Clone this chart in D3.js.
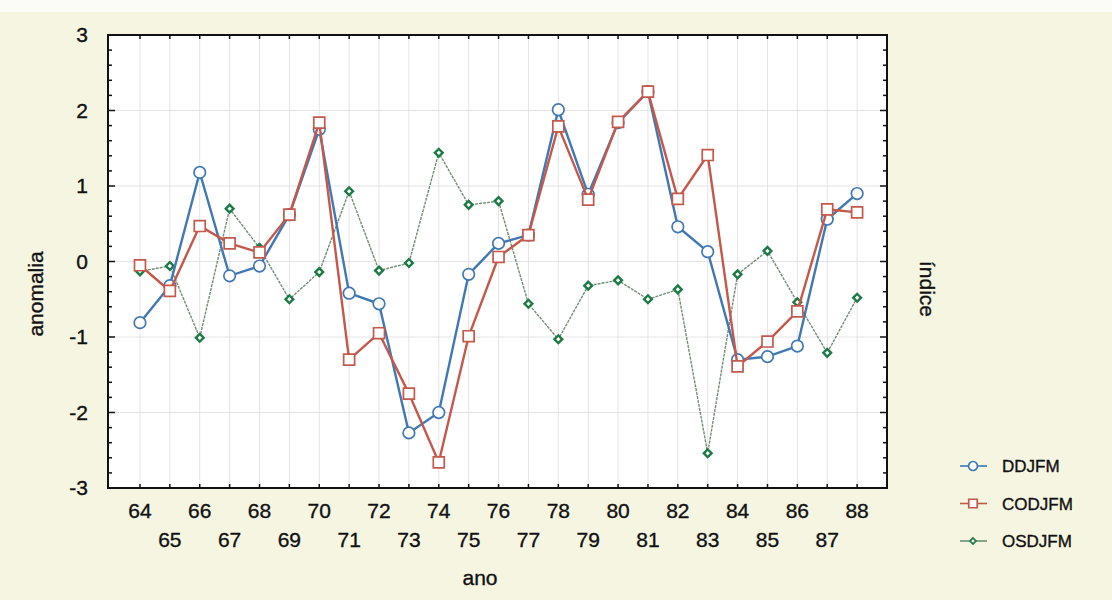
<!DOCTYPE html>
<html>
<head>
<meta charset="utf-8">
<script src="https://cdn.jsdelivr.net/npm/d3@7"></script>
<style>
  body { margin: 0; background: #f6f5e2; }
  svg { display: block; font-family: "Liberation Sans", Arial, sans-serif; }
  text { fill: #111; stroke: #111; stroke-width: 0.35px; }
</style>
</head>
<body>
<div id="chart"></div>
<script>
// years on the x axis (19xx)
const years = d3.range(64, 89);

// series values
const ddjfm = [-0.81, -0.32, 1.18, -0.19, -0.06, 0.62, 1.75, -0.42, -0.56, -2.27, -2.0, -0.17, 0.24,
               0.35, 2.01, 0.89, 1.84, 2.25, 0.46, 0.13, -1.3, -1.26, -1.12, 0.56, 0.9];
const codjfm = [-0.05, -0.39, 0.47, 0.24, 0.12, 0.62, 1.84, -1.3, -0.95, -1.75, -2.66, -0.99, 0.06,
                0.35, 1.79, 0.82, 1.85, 2.25, 0.83, 1.41, -1.39, -1.06, -0.66, 0.69, 0.65];
const osdjfm = [-0.13, -0.06, -1.01, 0.7, 0.18, -0.5, -0.14, 0.93, -0.12, -0.02, 1.44, 0.75, 0.8,
                -0.56, -1.03, -0.32, -0.25, -0.5, -0.37, -2.54, -0.17, 0.14, -0.54, -1.21, -0.48];

const yTicks = [-3, -2, -1, 0, 1, 2, 3];
const seriesNames = ["DDJFM", "CODJFM", "OSDJFM"];

const W = 1112, H = 600;
const pLeft = 108, pRight = 887, pTop = 35, pBottom = 488;

const svg = d3.select("#chart").append("svg")
    .attr("width", W)
    .attr("height", H);

// whitish band at the very top of the scan
svg.append("rect").attr("x", 0).attr("y", 0).attr("width", W).attr("height", 12).attr("fill", "#fbfbf7");

let x = d3.scaleLinear().domain([62.93, 89.0]).range([pLeft, pRight]);
let y = d3.scaleLinear().domain([-3, 3]).range([pBottom, pTop]);

// plot area
svg.append("rect")
    .attr("x", pLeft).attr("y", pTop)
    .attr("width", pRight - pLeft).attr("height", pBottom - pTop)
    .attr("fill", "#ffffff");

// grid
svg.append("g").selectAll("line")
    .data(years)
    .enter().append("line")
    .attr("x1", d => x(d)).attr("x2", d => x(d))
    .attr("y1", pTop).attr("y2", pBottom)
    .attr("stroke", "#e4e4e4").attr("stroke-width", 1);

svg.append("g").selectAll("line")
    .data(yTicks.slice(1, -1))
    .enter().append("line")
    .attr("x1", pLeft).attr("x2", pRight)
    .attr("y1", d => y(d)).attr("y2", d => y(d))
    .attr("stroke", "#e4e4e4").attr("stroke-width", 1);

// inward ticks on all four sides
let minor = d3.range(-3, 3.001, 0.2);
[pLeft, pRight].forEach(function(px) {
    let dir = px === pLeft ? 1 : -1;
    svg.append("g").selectAll("line")
        .data(minor)
        .enter().append("line")
        .attr("x1", px).attr("x2", d => px + dir * (Math.abs(d - Math.round(d)) < 0.01 ? 7 : 4))
        .attr("y1", d => y(d)).attr("y2", d => y(d))
        .attr("stroke", "#111").attr("stroke-width", 1.5);
});
[pTop, pBottom].forEach(function(py) {
    let dir = py === pTop ? 1 : -1;
    svg.append("g").selectAll("line")
        .data(years)
        .enter().append("line")
        .attr("x1", d => x(d)).attr("x2", d => x(d))
        .attr("y1", py).attr("y2", py + dir * 4)
        .attr("stroke", "#111").attr("stroke-width", 1.5);
});

// frame
svg.append("rect")
    .attr("x", pLeft).attr("y", pTop)
    .attr("width", pRight - pLeft).attr("height", pBottom - pTop)
    .attr("fill", "none").attr("stroke", "#111").attr("stroke-width", 2);

// y tick labels
svg.append("g").selectAll("text")
    .data(yTicks)
    .enter().append("text")
    .attr("x", 88).attr("y", d => y(d))
    .attr("dy", "0.35em")
    .attr("text-anchor", "end")
    .style("font-size", "21px")
    .text(d => d);

// x tick labels, staggered
svg.append("g").selectAll("text")
    .data(years)
    .enter().append("text")
    .attr("x", d => x(d))
    .attr("y", d => d % 2 === 0 ? 518 : 547)
    .attr("text-anchor", "middle")
    .style("font-size", "21px")
    .text(d => d);

// axis titles
svg.append("text")
    .attr("transform", "translate(43,294) rotate(-90)")
    .attr("text-anchor", "middle")
    .style("font-size", "21px")
    .text("anomalia");

svg.append("text")
    .attr("transform", "translate(920,289) rotate(90)")
    .attr("text-anchor", "middle")
    .style("font-size", "21px")
    .text("índice");

svg.append("text")
    .attr("x", 480).attr("y", 585)
    .attr("text-anchor", "middle")
    .style("font-size", "21px")
    .text("ano");

// series styling
let styles = {
    DDJFM: { line: "#3f78b4", mark: "#3f78b4", width: 2.4, dash: null, symbol: d3.symbolCircle, size: 105, sw: 1.7, rot: 0 },
    CODJFM: { line: "#c4584a", mark: "#c4584a", width: 2.4, dash: null, symbol: d3.symbolSquare, size: 120, sw: 1.7, rot: 0 },
    OSDJFM: { line: "#6f8f74", mark: "#1c7a45", width: 1.4, dash: "3,1", symbol: d3.symbolSquare, size: 30, sw: 2.4, rot: 45 }
};
let seriesData = { DDJFM: ddjfm, CODJFM: codjfm, OSDJFM: osdjfm };

let lineGen = d3.line()
    .x((d, i) => x(years[i]))
    .y(d => y(d));

["OSDJFM", "DDJFM", "CODJFM"].forEach(function(name) {
    let s = styles[name];
    let vals = seriesData[name];
    svg.append("path")
        .datum(vals)
        .attr("d", lineGen)
        .attr("fill", "none")
        .attr("stroke", s.line)
        .attr("stroke-width", s.width)
        .attr("stroke-dasharray", s.dash);
    svg.append("g").selectAll("path")
        .data(vals)
        .enter().append("path")
        .attr("transform", (d, i) => "translate(" + x(years[i]) + "," + y(d) + ") rotate(" + s.rot + ")")
        .attr("d", d3.symbol().type(s.symbol).size(s.size))
        .attr("fill", "#fff")
        .attr("stroke", s.mark)
        .attr("stroke-width", s.sw);
});

// legend
let legend = svg.append("g").selectAll("g")
    .data(seriesNames)
    .enter().append("g")
    .attr("transform", (d, i) => "translate(0," + (466 + i * 37.5) + ")");

legend.append("line")
    .attr("x1", 960).attr("x2", 987)
    .attr("stroke", d => styles[d].line)
    .attr("stroke-width", 1.6);
legend.append("path")
    .attr("transform", d => "translate(973,0) rotate(" + styles[d].rot + ")")
    .attr("d", d => d3.symbol().type(styles[d].symbol).size(styles[d].size * 0.6)())
    .attr("fill", "#fff")
    .attr("stroke", d => styles[d].mark)
    .attr("stroke-width", 1.7);
legend.append("text")
    .attr("x", 1002).attr("dy", "0.36em")
    .style("font-size", "17px")
    .text(d => d);
</script>
</body>
</html>
